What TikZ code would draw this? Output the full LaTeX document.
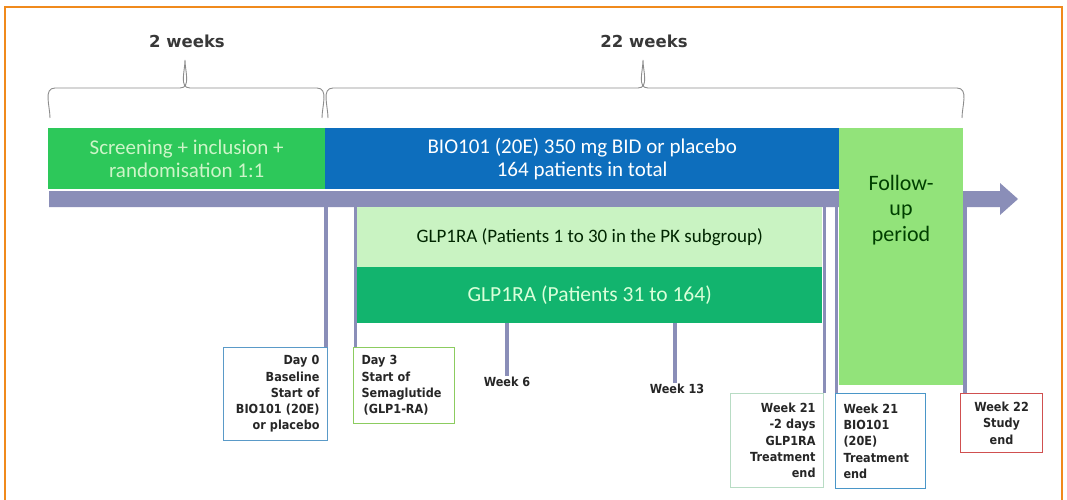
\documentclass[tikz,border=0pt]{standalone}
\usepackage{fontspec}
\setmainfont{Carlito}
\newfontfamily\boxfont[FakeStretch=0.9]{DejaVu Sans}
\newfontfamily\headfont{DejaVu Sans}
\definecolor{framec}{HTML}{F08A1C}
\definecolor{barc}{HTML}{8A8EB8}
\definecolor{scrg}{HTML}{2DC85A}
\definecolor{scrtxt}{HTML}{CDF5C8}
\definecolor{bluec}{HTML}{0D6EBD}
\definecolor{fug}{HTML}{92E37A}
\definecolor{lgg}{HTML}{C9F3C2}
\definecolor{dgg}{HTML}{12B46E}
\definecolor{bordblue}{HTML}{5A9AC8}
\definecolor{bordgreen}{HTML}{8CCC60}
\definecolor{bordlg}{HTML}{B8DCC4}
\definecolor{bordcyan}{HTML}{4A96C8}
\definecolor{bordred}{HTML}{D05050}
\begin{document}
\begin{tikzpicture}[x=1pt,y=-1pt,
  block/.style={inner sep=0pt, align=center, anchor=north west},
  bartext/.style={font=\fontsize{21}{23}\selectfont},
  vline/.style={draw=barc, line width=3.5pt},
  brace/.style={draw=black!45, line width=0.9pt},
  head/.style={font=\headfont\bfseries\fontsize{16.5}{20}\selectfont, text=black!78},
  infobox/.style={draw=#1, line width=1.1pt, fill=white, anchor=north west,
    inner xsep=8pt, inner ysep=0pt,
    font=\boxfont\bfseries\fontsize{12.5}{16.3}\selectfont, text=black!85},
  wlabel/.style={font=\boxfont\bfseries\fontsize{12.5}{16}\selectfont, text=black!85, inner sep=1pt}
]
\useasboundingbox (0,0) rectangle (1067,500);
\fill[white] (0,0) rectangle (1067,500);
\draw[framec, line width=1.6pt] (5,504) -- (5,7) -- (1062,7) -- (1062,504);

% headers and braces
\node[head] (h2) at (187,41) {2 weeks};
\node[head] (h22) at (644,41) {22 weeks};
\draw[brace] (50,118) to[out=90,in=180] (55,88) -- (180,88) to[out=0,in=-90] (185,60)
  to[out=-90,in=180] (190,88) -- (317,88) to[out=0,in=90] (322,118);
\draw[brace] (328,118) to[out=90,in=180] (333,88) -- (638,88) to[out=0,in=-90] (643,60)
  to[out=-90,in=180] (648,88) -- (957,88) to[out=0,in=90] (962,118);

% timeline bar with arrow
\fill[barc] (49,191) -- (1000,191) -- (1000,183) -- (1018,199) -- (1000,215)
  -- (1000,207) -- (49,207) -- cycle;

% phase blocks
\node[block, fill=scrg, text=scrtxt, bartext, minimum width=277pt, minimum height=61pt]
  (scr) at (48,128) {Screening + inclusion +\\randomisation 1:1};
\node[block, fill=bluec, text=white, bartext, minimum width=514pt, minimum height=61pt]
  (bio) at (325,128) {BIO101 (20E) 350 mg BID or placebo\\164 patients in total};
\node[block, fill=fug, minimum width=124pt, minimum height=257pt] (fu) at (839,128) {};
\node[inner sep=0pt, anchor=north, align=center, text=green!25!black,
  font=\fontsize{22}{25.5}\selectfont] (futext) at (901,175) {Follow-\\up\\period};
\node[block, fill=lgg, text=green!15!black, font=\fontsize{19}{22}\selectfont,
  minimum width=465pt, minimum height=60pt] (glpa) at (357,207)
  {GLP1RA (Patients 1 to 30 in the PK subgroup)};
\node[block, fill=dgg, text=green!15!white, font=\fontsize{21.5}{24}\selectfont,
  minimum width=465pt, minimum height=56pt] (glpb) at (357,267)
  {GLP1RA (Patients 31 to 164)};

% milestone boxes
\node[infobox=bordblue, minimum width=104pt, minimum height=93pt, text width=88pt, align=right]
  (d0) at (223,347) {Day 0\\Baseline\\Start of\\BIO101 (20E)\\or placebo};
\node[infobox=bordgreen, minimum width=101pt, minimum height=76pt, text width=85pt, align=left]
  (d3) at (353,347) {Day 3\\Start of\\Semaglutide\\\,(GLP1-RA)};
\node[infobox=bordlg, minimum width=93pt, minimum height=94pt, text width=77pt, align=right]
  (w21a) at (730,393) {Week 21\\-2 days\\GLP1RA\\Treatment\\end};
\node[infobox=bordcyan, minimum width=90pt, minimum height=95pt, text width=74pt, align=left]
  (w21b) at (835,393) {Week 21\\BIO101\\(20E)\\Treatment\\end};
\node[infobox=bordred, minimum width=82pt, minimum height=59pt, text width=66pt, align=center]
  (w22) at (960,393) {Week 22\\Study\\end};
\node[wlabel] (w6) at (507,382) {Week 6};
\node[wlabel] (w13) at (677,389) {Week 13};

% connector anchors on the bar / GLP1RA block
\coordinate (c0) at (326,200);
\coordinate (c3) at (355.3,200);
\coordinate (c6) at (507,323);
\coordinate (c13) at (675,323);
\coordinate (c21a) at (824.5,200);
\coordinate (c21b) at (836.5,200);
\coordinate (c22) at (965,200);

\draw[vline] (c0) -- (c0 |- d0.north);
\draw[vline] (c3) -- (c3 |- d3.north);
\draw[vline] (c6) -- (c6 |- w6.north);
\draw[vline] (c13) -- (c13 |- w13.north);
\draw[vline] (c21a) -- (c21a |- w21a.north);
\draw[vline] (c21b) -- (c21b |- w21b.north);
\draw[vline] (c22) -- (c22 |- w22.north);
\end{tikzpicture}
\end{document}
